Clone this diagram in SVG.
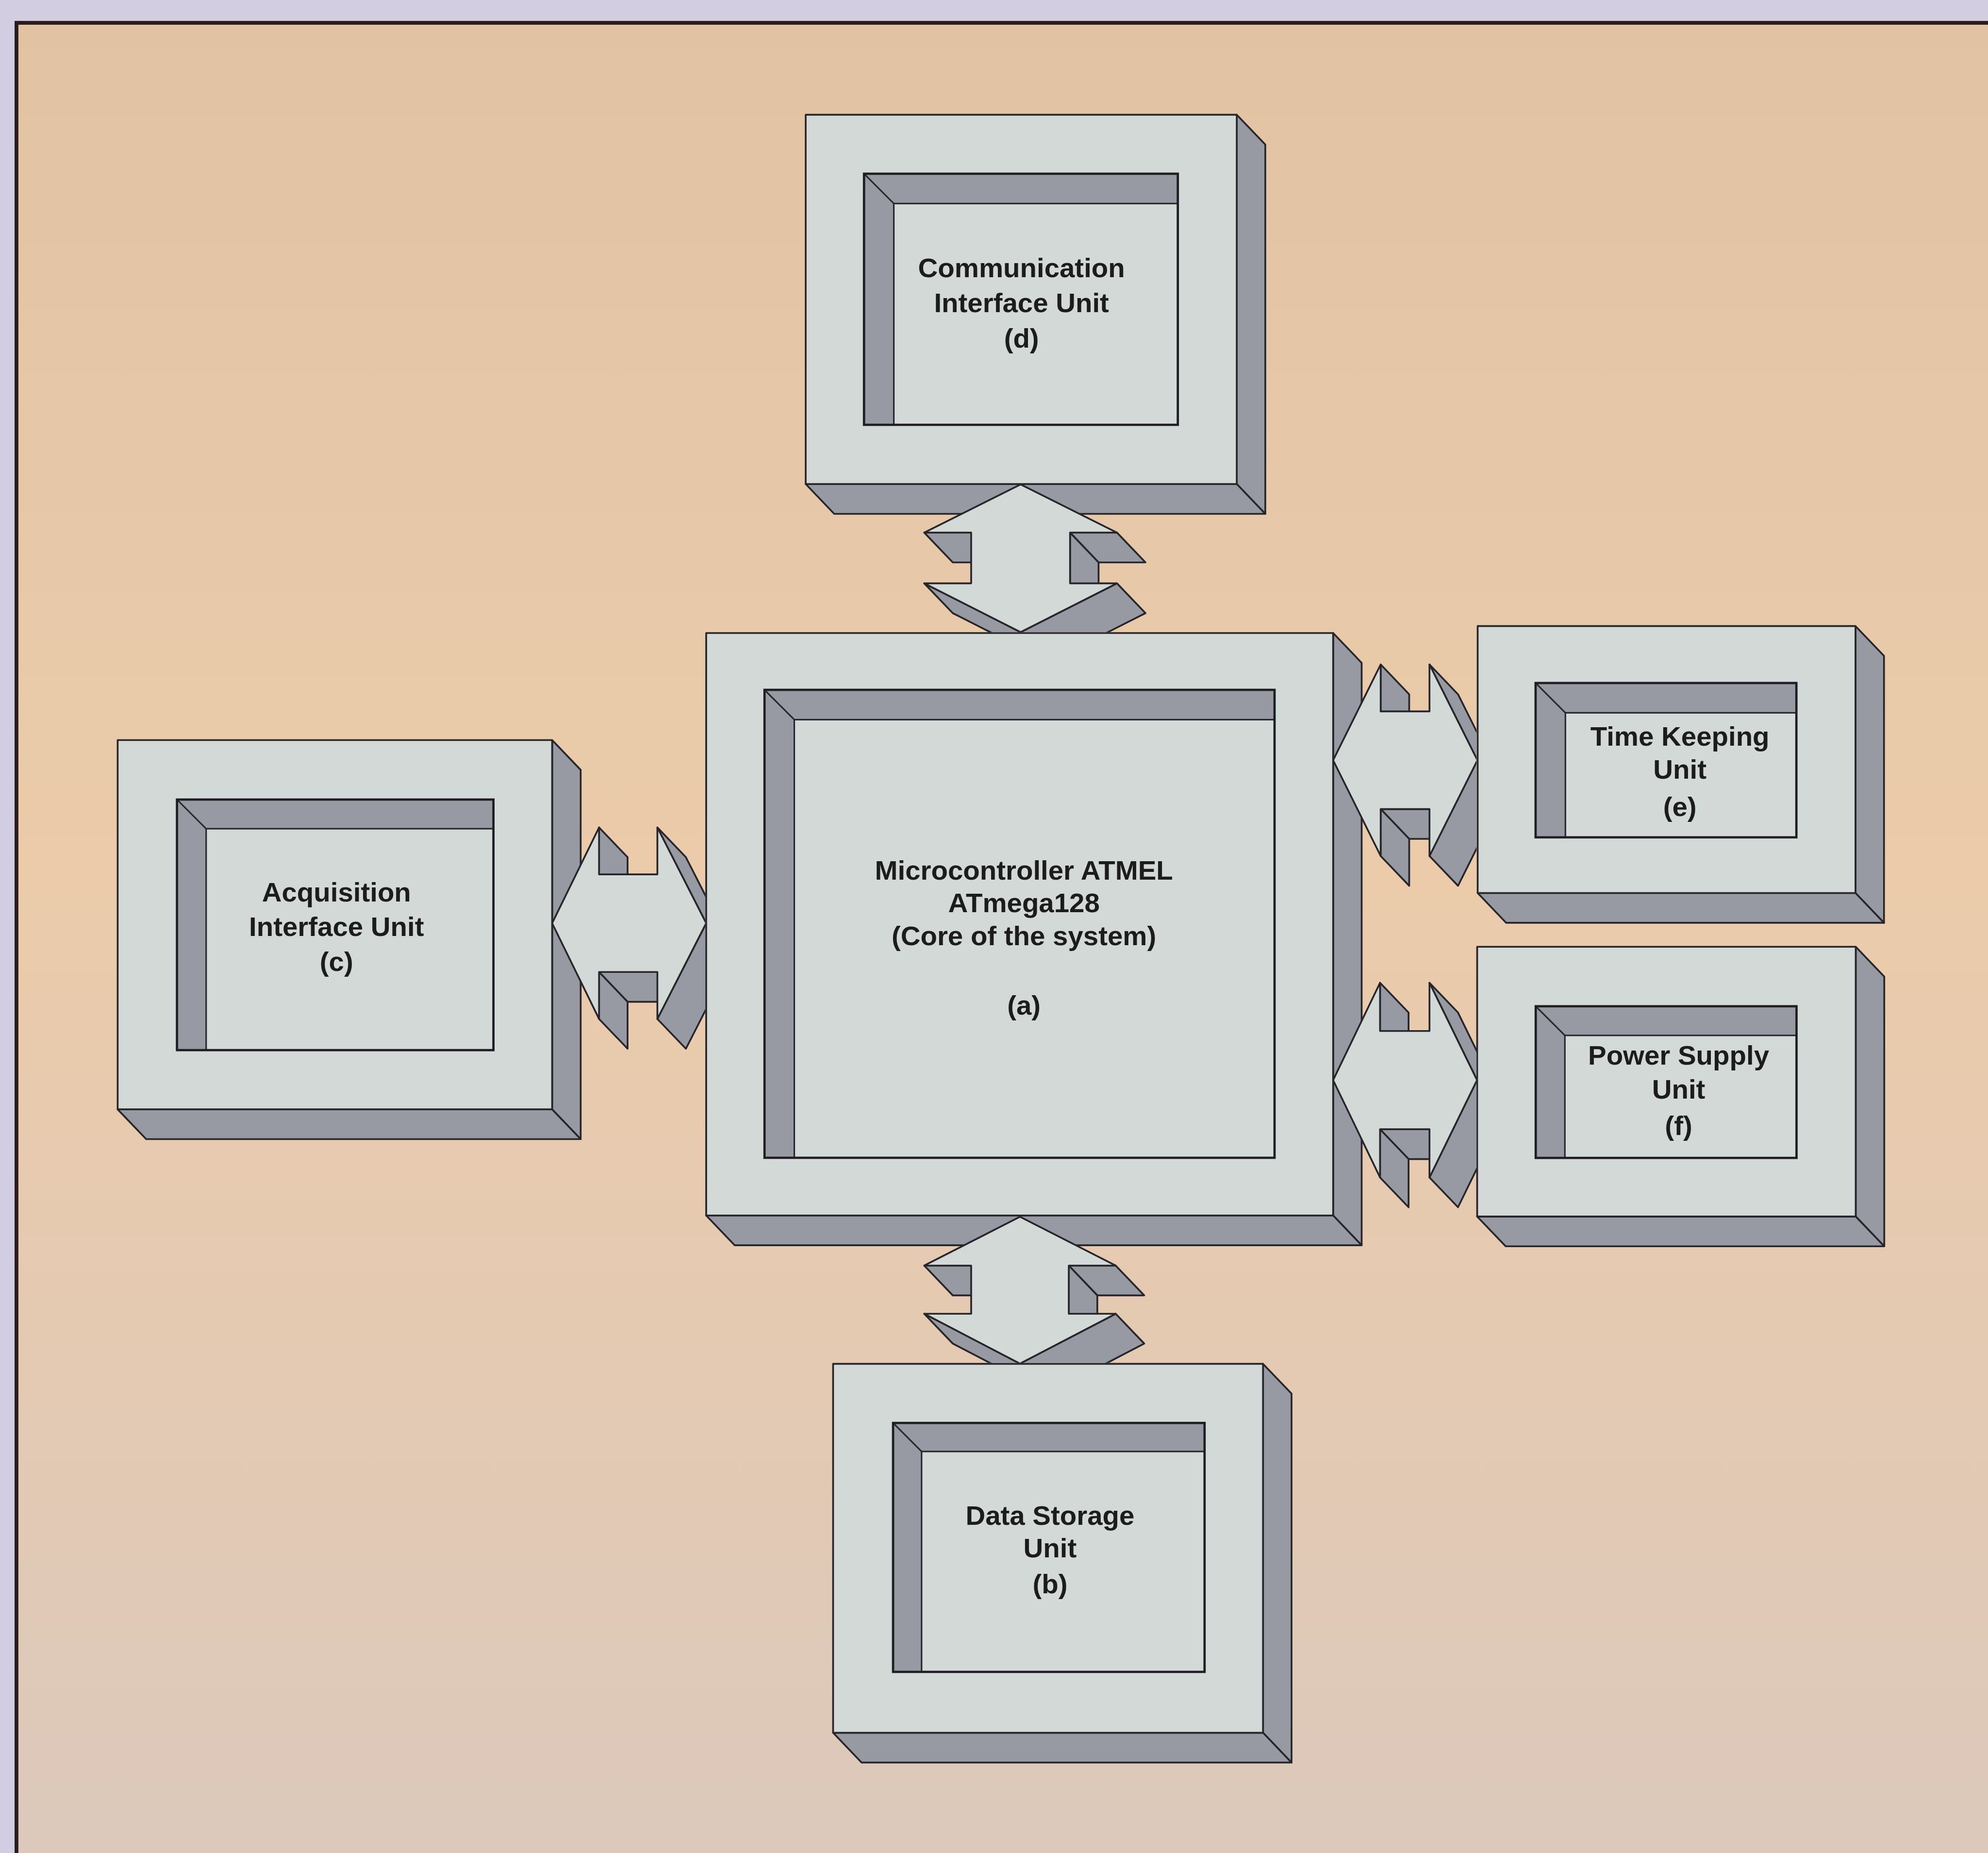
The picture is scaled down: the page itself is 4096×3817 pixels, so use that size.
<svg xmlns="http://www.w3.org/2000/svg" width="4096" height="3817" viewBox="0 0 4096 3817">
<defs>
<linearGradient id="bg" x1="0" y1="0" x2="0" y2="1">
<stop offset="0" stop-color="#e1c3a4"/>
<stop offset="0.45" stop-color="#ebcbaa"/>
<stop offset="1" stop-color="#dbc8bc"/>
</linearGradient>
<clipPath id="clipL"><rect x="0" y="0" width="556.3" height="1500"/></clipPath>
<clipPath id="clipT"><rect x="0" y="0" width="1600" height="498.5"/></clipPath>
<clipPath id="clipR"><rect x="0" y="0" width="1164.6" height="1500"/></clipPath>
<clipPath id="clipB"><rect x="0" y="0" width="1600" height="1074.8"/></clipPath>
</defs>
<style>
.face{fill:#d3d9d6;stroke:#26262a;stroke-width:1.4;stroke-linejoin:round}
.side{fill:#989aa3;stroke:#26262a;stroke-width:1.4;stroke-linejoin:round}
.bev{fill:#989aa3;stroke:none}
.cont{fill:#d3d9d6;stroke:#26262a;stroke-width:1.2}
.out{fill:none;stroke:#1e1e22;stroke-width:1.8}
.dl{stroke:#26262a;stroke-width:1.2}
.lbl{font-family:"Liberation Sans",Arial,sans-serif;font-weight:bold;font-size:21.6px;fill:#1c1c1c;text-anchor:middle}
</style>
<rect width="4096" height="3817" fill="#d2cde0"/>
<g transform="scale(2.6122)">
<rect x="13" y="18" width="1600" height="1500" fill="url(#bg)" stroke="#2a1c1c" stroke-width="3"/>

<g id="node-c">
<polygon class="side" points="435.5,583.6 458,607.1 458,898.3 435.5,874.8"/>
<polygon class="side" points="92.8,874.8 435.5,874.8 458,898.3 115.3,898.3"/>
<rect class="face" x="92.8" y="583.6" width="342.7" height="291.2"/>
<rect class="bev" x="139.6" y="630.5" width="249.6" height="197.6"/>
<rect class="cont" x="162.6" y="653.5" width="226.6" height="174.6"/>
<line class="dl" x1="139.6" y1="630.5" x2="162.6" y2="653.5"/>
<rect class="out" x="139.6" y="630.5" width="249.6" height="197.6"/>
<text class="lbl" x="265.4" y="710.8">Acquisition</text>
<text class="lbl" x="265.4" y="738.1">Interface Unit</text>
<text class="lbl" x="265.4" y="765.5">(c)</text>
</g>

<g id="node-d">
<polygon class="side" points="975.5,90.5 998,114 998,405.2 975.5,381.7"/>
<polygon class="side" points="635.5,381.7 975.5,381.7 998,405.2 658,405.2"/>
<rect class="face" x="635.5" y="90.5" width="340" height="291.2"/>
<rect class="bev" x="681.5" y="137" width="247.5" height="198"/>
<rect class="cont" x="705" y="160.5" width="224" height="174.5"/>
<line class="dl" x1="681.5" y1="137" x2="705" y2="160.5"/>
<rect class="out" x="681.5" y="137" width="247.5" height="198"/>
<text class="lbl" x="805.7" y="218.7">Communication</text>
<text class="lbl" x="805.7" y="246.1">Interface Unit</text>
<text class="lbl" x="805.7" y="274">(d)</text>
</g>

<g id="node-a">
<polygon class="side" points="1051.5,499.2 1074,522.7 1074,982 1051.5,958.5"/>
<polygon class="side" points="557,958.5 1051.5,958.5 1074,982 579.5,982"/>
<rect class="face" x="557" y="499.2" width="494.5" height="459.3"/>
<rect class="bev" x="603" y="544" width="402.3" height="369"/>
<rect class="cont" x="626.5" y="567.5" width="378.8" height="345.5"/>
<line class="dl" x1="603" y1="544" x2="626.5" y2="567.5"/>
<rect class="out" x="603" y="544" width="402.3" height="369"/>
<text class="lbl" x="807.6" y="693.5">Microcontroller ATMEL</text>
<text class="lbl" x="807.6" y="719.5">ATmega128</text>
<text class="lbl" x="807.6" y="745.5">(Core of the system)</text>
<text class="lbl" x="807.6" y="800">(a)</text>
</g>

<g id="node-e">
<polygon class="side" points="1463.5,493.7 1486,517.2 1486,727.7 1463.5,704.2"/>
<polygon class="side" points="1165.5,704.2 1463.5,704.2 1486,727.7 1188,727.7"/>
<rect class="face" x="1165.5" y="493.7" width="298" height="210.5"/>
<rect class="bev" x="1211.2" y="538.6" width="205.7" height="121.7"/>
<rect class="cont" x="1234.7" y="562.1" width="182.2" height="98.2"/>
<line class="dl" x1="1211.2" y1="538.6" x2="1234.7" y2="562.1"/>
<rect class="out" x="1211.2" y="538.6" width="205.7" height="121.7"/>
<text class="lbl" x="1325" y="588">Time Keeping</text>
<text class="lbl" x="1325" y="614">Unit</text>
<text class="lbl" x="1325" y="643.5">(e)</text>
</g>

<g id="node-f">
<polygon class="side" points="1463.7,746.6 1486.2,770.1 1486.2,982.8 1463.7,959.3"/>
<polygon class="side" points="1165.1,959.3 1463.7,959.3 1486.2,982.8 1187.6,982.8"/>
<rect class="face" x="1165.1" y="746.6" width="298.6" height="212.7"/>
<rect class="bev" x="1211.3" y="793.5" width="205.7" height="119.6"/>
<rect class="cont" x="1234.3" y="816.5" width="182.7" height="96.6"/>
<line class="dl" x1="1211.3" y1="793.5" x2="1234.3" y2="816.5"/>
<rect class="out" x="1211.3" y="793.5" width="205.7" height="119.6"/>
<text class="lbl" x="1324" y="839.5">Power Supply</text>
<text class="lbl" x="1324" y="866.3">Unit</text>
<text class="lbl" x="1324" y="895">(f)</text>
</g>

<g id="node-b">
<polygon class="side" points="996.2,1075.5 1018.7,1099 1018.7,1389.9 996.2,1366.4"/>
<polygon class="side" points="657.1,1366.4 996.2,1366.4 1018.7,1389.9 679.6,1389.9"/>
<rect class="face" x="657.1" y="1075.5" width="339.1" height="290.9"/>
<rect class="bev" x="704.4" y="1122.1" width="245.7" height="196.3"/>
<rect class="cont" x="726.9" y="1144.6" width="223.2" height="173.8"/>
<line class="dl" x1="704.4" y1="1122.1" x2="726.9" y2="1144.6"/>
<rect class="out" x="704.4" y="1122.1" width="245.7" height="196.3"/>
<text class="lbl" x="828.2" y="1202.6">Data Storage</text>
<text class="lbl" x="828.2" y="1228">Unit</text>
<text class="lbl" x="828.2" y="1256.3">(b)</text>
</g>

<g id="connectors">
<g id="conn-c-a" clip-path="url(#clipL)">
<polygon class="side" points="472.5,652.5 472.5,689.5 495,713 495,676"/>
<polygon class="side" points="518.5,766.5 472.5,766.5 495,790 541,790"/>
<polygon class="side" points="472.5,766.5 472.5,803.5 495,827 495,790"/>
<polygon class="side" points="518.5,652.5 557,728 579.5,751.5 541,676"/>
<polygon class="side" points="557,728 518.5,803.5 541,827 579.5,751.5"/>
<polygon class="face" points="435.5,728 472.5,652.5 472.5,689.5 518.5,689.5 518.5,652.5 557,728 518.5,803.5 518.5,766.5 472.5,766.5 472.5,803.5"/>
</g>
<g id="conn-d-a" clip-path="url(#clipT)">
<polygon class="side" points="766,420 729,420 751.5,443.5 788.5,443.5"/>
<polygon class="side" points="881,420 844,420 866.5,443.5 903.5,443.5"/>
<polygon class="side" points="844,420 844,460 866.5,483.5 866.5,443.5"/>
<polygon class="side" points="805,498.5 729,460 751.5,483.5 827.5,522"/>
<polygon class="side" points="881,460 805,498.5 827.5,522 903.5,483.5"/>
<polygon class="face" points="805,382 881,420 844,420 844,460 881,460 805,498.5 729,460 766,460 766,420 729,420"/>
</g>
<g id="conn-a-e" clip-path="url(#clipR)">
<polygon class="side" points="1089,524 1089,561 1111.5,584.5 1111.5,547.5"/>
<polygon class="side" points="1127.5,638 1089,638 1111.5,661.5 1150,661.5"/>
<polygon class="side" points="1089,638 1089,675 1111.5,698.5 1111.5,661.5"/>
<polygon class="side" points="1127.5,524 1165.3,599.5 1187.8,623 1150,547.5"/>
<polygon class="side" points="1165.3,599.5 1127.5,675 1150,698.5 1187.8,623"/>
<polygon class="face" points="1051.5,599.5 1089,524 1089,561 1127.5,561 1127.5,524 1165.3,599.5 1127.5,675 1127.5,638 1089,638 1089,675"/>
</g>
<g id="conn-a-f" clip-path="url(#clipR)">
<polygon class="side" points="1088.5,775 1088.5,813 1111,836.5 1111,798.5"/>
<polygon class="side" points="1127.5,890.5 1088.5,890.5 1111,914 1150,914"/>
<polygon class="side" points="1088.5,890.5 1088.5,928.5 1111,952 1111,914"/>
<polygon class="side" points="1127.5,775 1165,851.75 1187.5,875.25 1150,798.5"/>
<polygon class="side" points="1165,851.75 1127.5,928.5 1150,952 1187.5,875.25"/>
<polygon class="face" points="1051.5,851.75 1088.5,775 1088.5,813 1127.5,813 1127.5,775 1165,851.75 1127.5,928.5 1127.5,890.5 1088.5,890.5 1088.5,928.5"/>
</g>
<g id="conn-a-b" clip-path="url(#clipB)">
<polygon class="side" points="766,998 729,998 751.5,1021.5 788.5,1021.5"/>
<polygon class="side" points="880,998 843,998 865.5,1021.5 902.5,1021.5"/>
<polygon class="side" points="843,998 843,1036 865.5,1059.5 865.5,1021.5"/>
<polygon class="side" points="804.5,1075.3 729,1036 751.5,1059.5 827,1098.8"/>
<polygon class="side" points="880,1036 804.5,1075.3 827,1098.8 902.5,1059.5"/>
<polygon class="face" points="804.5,959.5 880,998 843,998 843,1036 880,1036 804.5,1075.3 729,1036 766,1036 766,998 729,998"/>
</g>
</g>
</g>
</svg>
